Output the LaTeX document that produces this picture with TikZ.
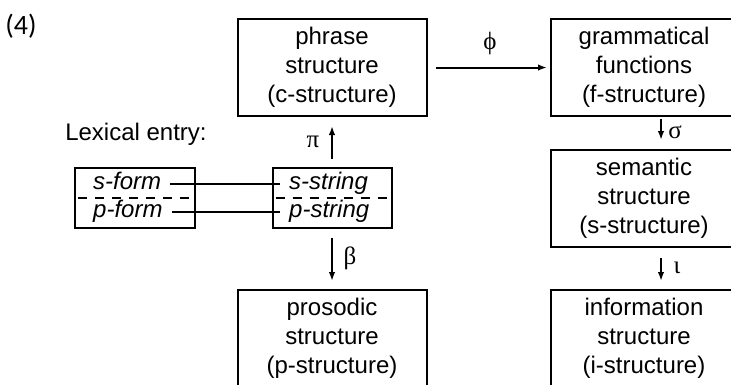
\documentclass[tikz,border=0pt]{standalone}
\usepackage{fontspec}
\setmainfont{Liberation Sans}
\newfontfamily\grfont{Liberation Serif}
\newfontfamily\numfont{Carlito}
\usetikzlibrary{arrows.meta}
\begin{document}
\begin{tikzpicture}[x=1pt,y=-1pt,
  box/.style={draw, line width=2pt, minimum width=189pt, minimum height=97pt, inner sep=0pt, align=center, font=\fontsize{24}{29}\selectfont},
  lexbox/.style={draw, line width=2pt, minimum width=120pt, minimum height=60pt, inner sep=0pt},
  lextext/.style={font=\fontsize{24}{29}\selectfont\itshape, inner sep=0pt, anchor=base west},
  plain/.style={font=\fontsize{24}{29}\selectfont, inner sep=0pt},
  arr/.style={line width=2pt, -{Latex[length=9pt,width=6.5pt]}},
  gk/.style={font=\fontsize{25}{29}\grfont, inner sep=0pt},
  link/.style={line width=2.2pt},
  dashline/.style={line width=2pt, dash pattern=on 9pt off 8pt, dash phase=-4pt}
]
\useasboundingbox (0,0) rectangle (731,384);
\clip (0,0) rectangle (731,384);

\node[plain, font=\fontsize{28}{30}\numfont] (num) at (21,26) {(4)};
\node[plain] (lexlabel) at (136,134) {Lexical entry:};

% structure boxes
\node[box] (phrase) at (332,67.5) {phrase\\structure\\(c-structure)};
\node[box, minimum width=186pt] (gf) at (644,67.5) {grammatical\\functions\\(f-structure)};
\node[box, minimum width=186pt] (sem) at (644,198.5) {semantic\\structure\\(s-structure)};
\node[box, minimum width=186pt] (info) at (644,338.5) {information\\structure\\(i-structure)};
\node[box] (pros) at (332,338.5) {prosodic\\structure\\(p-structure)};

% lexical entry boxes
\node[lexbox] (lexL) at (135,198) {};
\node[lexbox, minimum width=119pt] (strR) at (332,198) {};
\draw[dashline] (lexL.west) -- (lexL.east);
\draw[dashline] (strR.west) -- (strR.east);

\node[lextext] (sform) at (93,189) {s-form};
\node[lextext] (pform) at (93,217) {p-form};
\node[lextext] (sstring) at (289,189) {s-string};
\node[lextext] (pstring) at (289,217) {p-string};

\draw[link] ([shift={(9pt,5pt)}]sform.base east) -- ([shift={(-9pt,5pt)}]sstring.base west);
\draw[link] ([shift={(9pt,5pt)}]pform.base east) -- ([shift={(-9pt,5pt)}]pstring.base west);

% arrows
\draw[arr] ([xshift=8pt]phrase.east) -- ([xshift=-3pt]gf.west);
\draw[arr] ([yshift=8pt]strR.north) -- ([yshift=-9pt]phrase.south);
\draw[arr] ([yshift=-9pt]strR.south) -- ([yshift=8pt]pros.north);
\draw[arr] ([xshift=17pt,yshift=-2pt]gf.south) -- ([xshift=17pt,yshift=9pt]sem.north);
\draw[arr] ([xshift=17pt,yshift=-10pt]sem.south) -- ([xshift=17pt,yshift=8pt]info.north);

% labels
\node[gk] (phi) at (490,43) {ϕ};
\node[gk] (pi) at (313,142) {π};
\node[gk] (beta) at (350,258) {β};
\node[gk] (sigma) at (675,132) {σ};
\node[gk] (iota) at (677,268) {ι};
\end{tikzpicture}
\end{document}
